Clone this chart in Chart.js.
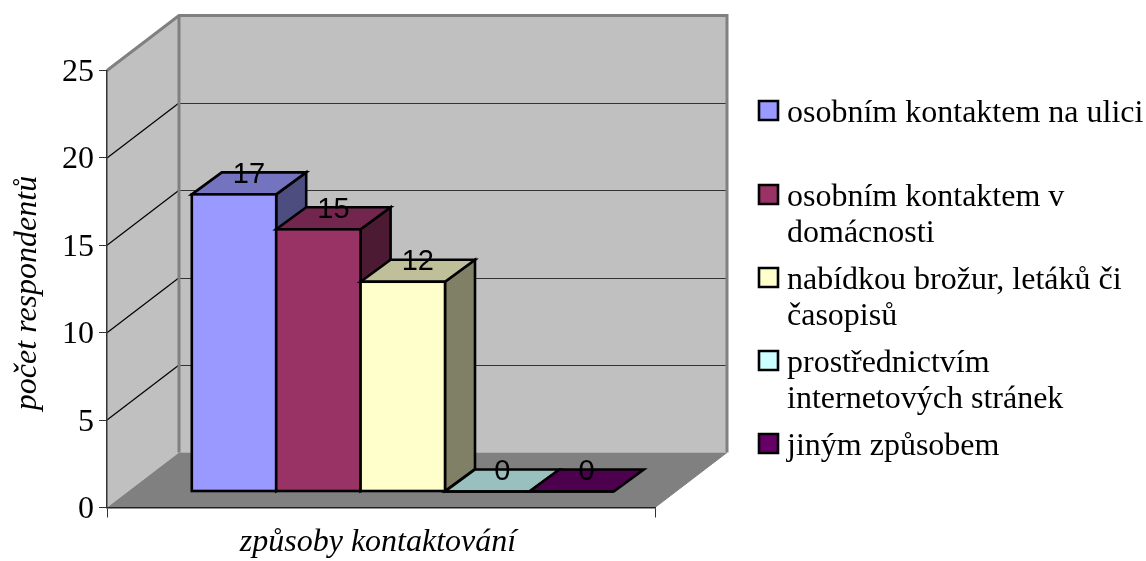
<!DOCTYPE html>
<html><head><meta charset="utf-8">
<style>html,body{margin:0;padding:0;background:#fff}canvas{display:block}</style>
<script src="https://cdn.jsdelivr.net/npm/chart.js@4"></script>
</head><body><canvas id="c" width="1146" height="561"></canvas>
<script>
const categories = [''];
const seriesNames = [
  ['osobním kontaktem na ulici'],
  ['osobním kontaktem v', 'domácnosti'],
  ['nabídkou brožur, letáků či', 'časopisů'],
  ['prostřednictvím', 'internetových stránek'],
  ['jiným způsobem']
];
const seriesValues = [17, 15, 12, 0, 0];
const seriesColors = ['#9999FF', '#993366', '#FFFFCC', '#CCFFFF', '#660066'];
const topColors = ['#7373BF', '#73264D', '#BFBF99', '#99BFBF', '#4D004D'];
const sideColors = ['#4D4D80', '#4D1A33', '#808066', '#668080', '#330033'];
const yTicks = [0, 5, 10, 15, 20, 25];
const yTitle = 'počet respondentů';
const xTitle = 'způsoby kontaktování';

// layout constants
const WALL = {dx: 72, dy: -55};
const BAR = {dx: 30, dy: -22, sx: 21.8, sy: -16, lw: 2.6};
const LEG = {box: 19, boxX: 759, textX: 787, baselines: [[122], [206, 242], [289, 325], [372, 408], [455]], boxTop: [101, 185, 268, 351, 434]};
const SERIF = '"Liberation Serif","Times New Roman",serif';
const SANS = '"Liberation Sans",Arial,sans-serif';

function poly(ctx, pts, fill, stroke, lw) {
  ctx.beginPath();
  pts.forEach((p, i) => i ? ctx.lineTo(p[0], p[1]) : ctx.moveTo(p[0], p[1]));
  ctx.closePath();
  if (fill) { ctx.fillStyle = fill; ctx.fill(); }
  if (stroke) { ctx.strokeStyle = stroke; ctx.lineWidth = lw; ctx.lineJoin = 'miter'; ctx.stroke(); }
}
function shiftDraw(s, name, dx, dy) {
  const orig = s[name];
  s[name] = function (...args) {
    const c = this.ctx; c.save(); c.translate(dx, dy); orig.apply(this, args); c.restore();
  };
}
function shiftOnce(s, fn) { if (!s._shifted) { s._shifted = true; fn(); } }

const scene = {
  id: 'scene',
  beforeDraw(chart) {
    const {ctx, chartArea: a, scales: {y}} = chart;
    const bx = a.left + WALL.dx, dy = WALL.dy;
    const y0 = y.getPixelForValue(0), yT = y.getPixelForValue(yTicks[yTicks.length - 1]);
    ctx.save();
    poly(ctx, [[a.left, y0], [a.left, yT], [bx, yT + dy], [bx, y0 + dy]], '#C0C0C0');
    poly(ctx, [[bx, yT + dy], [a.right + WALL.dx, yT + dy], [a.right + WALL.dx, y0 + dy], [bx, y0 + dy]], '#C0C0C0');
    poly(ctx, [[a.left, y0], [a.right, y0], [a.right + WALL.dx, y0 + dy], [bx, y0 + dy]], '#808080');
    yTicks.slice(1, -1).forEach(v => {
      const p = y.getPixelForValue(v);
      ctx.strokeStyle = '#000'; ctx.lineWidth = 1.2;
      ctx.beginPath(); ctx.moveTo(a.left, p); ctx.lineTo(bx, p + dy); ctx.stroke();
      ctx.strokeStyle = '#333'; ctx.lineWidth = 1;
      ctx.beginPath(); ctx.moveTo(bx, Math.round(p + dy) + .5); ctx.lineTo(a.right + WALL.dx, Math.round(p + dy) + .5); ctx.stroke();
    });
    ctx.strokeStyle = '#808080'; ctx.lineWidth = 3; ctx.lineJoin = 'miter';
    ctx.beginPath();
    ctx.moveTo(a.left, yT); ctx.lineTo(bx, yT + dy); ctx.lineTo(a.right + WALL.dx, yT + dy);
    ctx.lineTo(a.right + WALL.dx, y0 + dy);
    ctx.moveTo(bx, yT + dy); ctx.lineTo(bx, y0 + dy);
    ctx.stroke();
    ctx.lineWidth = 1;
    ctx.beginPath(); ctx.moveTo(a.right, y0); ctx.lineTo(a.right + WALL.dx, y0 + dy); ctx.stroke();
    ctx.restore();
  },
  beforeDatasetDraw() { return false; },
  afterDatasetsDraw(chart) {
    const {ctx} = chart;
    const dx = BAR.dx, dy = BAR.dy;
    chart.data.datasets.forEach((ds, i) => {
      const meta = chart.getDatasetMeta(i), el = meta.data[0];
      const l = el.x - el.width / 2, r = el.x + el.width / 2, t = el.y, b = el.base;
      ctx.save();
      ctx.translate(BAR.sx, BAR.sy);
      if (b - t > 0) poly(ctx, [[r, t], [r + dx, t + dy], [r + dx, b + dy], [r, b]], sideColors[i], '#000', BAR.lw);
      poly(ctx, [[l, t], [l + dx, t + dy], [r + dx, t + dy], [r, t]], topColors[i], '#000', BAR.lw);
      meta.controller.draw();
      ctx.strokeStyle = '#000'; ctx.lineWidth = BAR.lw;
      if (b - t > 0) ctx.strokeRect(l, t, r - l, b - t);
      else { ctx.beginPath(); ctx.moveTo(l, t); ctx.lineTo(r, t); ctx.stroke(); }
      ctx.restore();
    });
    ctx.save();
    ctx.fillStyle = '#000'; ctx.font = '29px ' + SANS; ctx.textAlign = 'center'; ctx.textBaseline = 'alphabetic';
    chart.data.datasets.forEach((ds, i) => {
      const el = chart.getDatasetMeta(i).data[0];
      ctx.fillText(String(ds.data[0]), el.x + BAR.sx + BAR.dx / 2, el.y + BAR.sy + BAR.dy + 10.5);
    });
    ctx.restore();
  },
  afterDraw(chart) {
    const {ctx} = chart;
    ctx.save();
    ctx.textAlign = 'left'; ctx.textBaseline = 'alphabetic';
    ctx.font = '32px ' + SERIF;
    chart.data.datasets.forEach((ds, i) => {
      poly(ctx, [[LEG.boxX, LEG.boxTop[i]], [LEG.boxX + LEG.box, LEG.boxTop[i]], [LEG.boxX + LEG.box, LEG.boxTop[i] + LEG.box], [LEG.boxX, LEG.boxTop[i] + LEG.box]], ds.backgroundColor, '#000', 2.6);
      ctx.fillStyle = '#000';
      seriesNames[i].forEach((line, k) => ctx.fillText(line, LEG.textX, LEG.baselines[i][k]));
    });
    ctx.restore();
  }
};

new Chart(document.getElementById('c'), {
  type: 'bar',
  data: {
    labels: categories,
    datasets: seriesValues.map((v, i) => ({
      label: seriesNames[i].join(' '),
      data: [v],
      backgroundColor: seriesColors[i],
      borderWidth: 0
    }))
  },
  options: {
    responsive: false,
    animation: false,
    events: [],
    categoryPercentage: 422 / 548,
    barPercentage: 1,
    layout: {padding: {left: 0, right: 491, top: 70.5, bottom: 0}},
    plugins: {legend: {display: false}, tooltip: {enabled: false}, title: {display: false}},
    scales: {
      x: {
        grid: {offset: true, drawOnChartArea: false, drawTicks: true, tickLength: 10, color: '#333', tickColor: '#333'},
        border: {color: '#222', width: 1.5},
        ticks: {display: false},
        title: {display: true, text: xTitle, color: '#000', font: {family: SERIF, size: 32, style: 'italic'}, padding: {top: 0, bottom: 0}},
        afterFit(s) { s.height = 53.5; },
        afterUpdate(s) { shiftOnce(s, () => shiftDraw(s, 'drawTitle', -3, 1)); }
      },
      y: {
        min: 0, max: 25,
        grid: {drawOnChartArea: false, drawTicks: true, tickLength: 8, tickColor: '#333'},
        border: {color: '#333', width: 1.5},
        ticks: {stepSize: 5, color: '#000', padding: 5, font: {family: SERIF, size: 32}, callback: v => yTicks.includes(v) ? String(v) : ''},
        title: {display: true, text: yTitle, color: '#000', font: {family: SERIF, size: 32, style: 'italic'}, padding: {top: 8, bottom: 0}},
        afterFit(s) { s.width = 107; },
        afterUpdate(s) { shiftOnce(s, () => { shiftDraw(s, 'drawTitle', 0, 4); shiftDraw(s, 'drawLabels', 0, 2); }); }
      }
    }
  },
  plugins: [scene]
});
</script></body></html>
